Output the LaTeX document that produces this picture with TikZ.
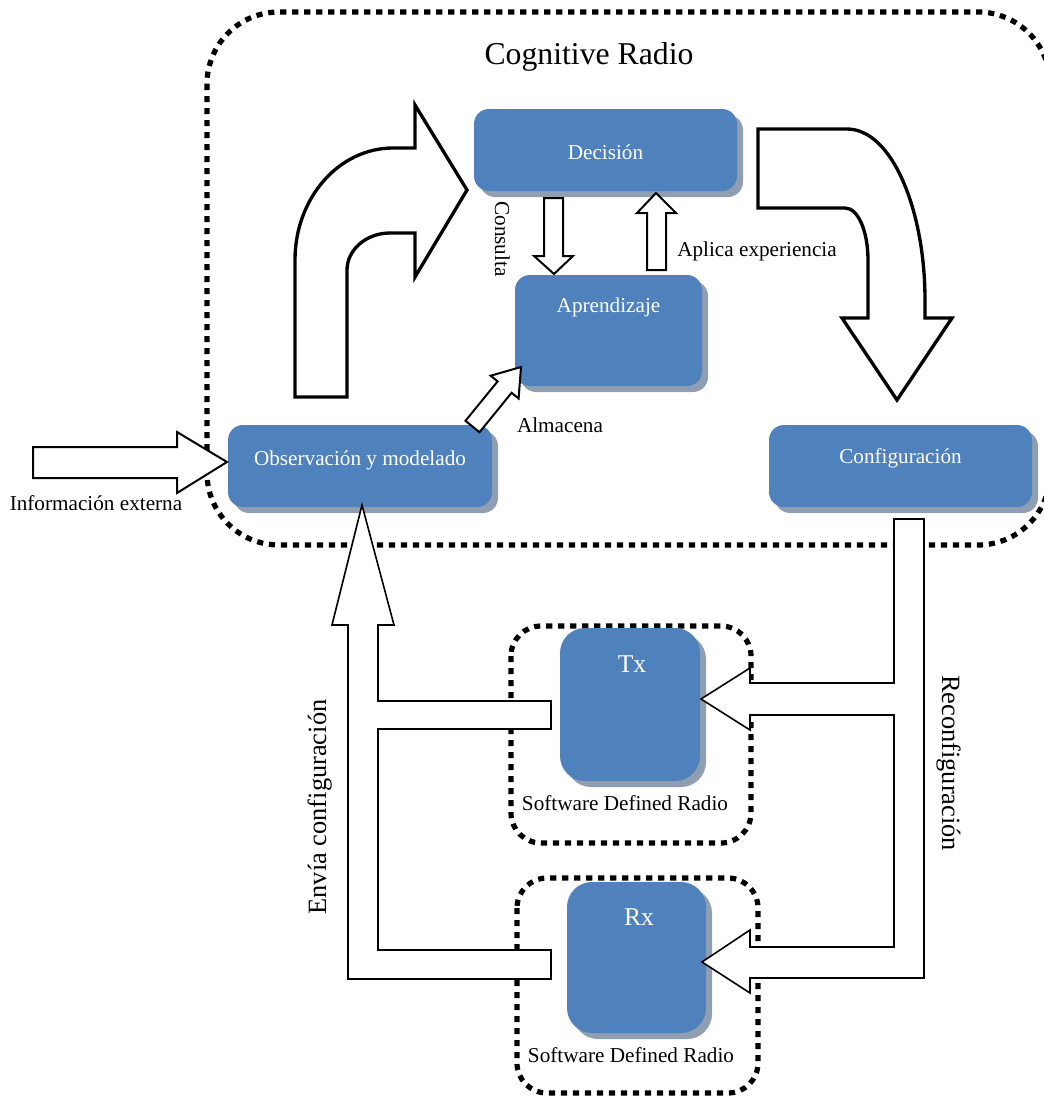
\documentclass[tikz,border=0pt]{standalone}
\usepackage{fontspec}
\setmainfont{Liberation Serif}
\usetikzlibrary{shadows}

\definecolor{boxblue}{RGB}{79,129,189}
\definecolor{shadowgray}{RGB}{143,158,177}

\newcommand\fbase{\fontsize{15.9pt}{19pt}\selectfont}
\newcommand\fbig{\fontsize{19.8pt}{23pt}\selectfont}
\newcommand\ftitle{\fontsize{23.8pt}{28pt}\selectfont}
\newcommand\ftxrx{\fontsize{19.2pt}{23pt}\selectfont}

\begin{document}
\begin{tikzpicture}[x=0.75pt, y=-0.75pt,
  dotframe/.style={draw=black, line width=3.9pt, dash pattern=on 4.6pt off 4.4pt},
  bluebox/.style={fill=boxblue, draw=none, inner sep=0pt, rounded corners=11.25pt,
    drop shadow={shadow xshift=4.5pt, shadow yshift=-4.5pt, fill=shadowgray, opacity=1}},
  tallbox/.style={bluebox, rounded corners=18.75pt},
  wtext/.style={text=white, font=\fbase, inner sep=0pt},
  lbl/.style={text=black, font=\fbase, inner sep=0pt},
  bigarrow/.style={draw=black, fill=white, line width=2.5pt, line join=miter},
  midarrow/.style={draw=black, fill=white, line width=1.5pt, line join=miter},
  tarrow/.style={draw=black, fill=white, line width=1.2pt, line join=miter}
]
\useasboundingbox (0,0) rectangle (1044,1097);
\clip (0,0) rectangle (1044,1097);

% dotted frames: cognitive radio and the two software defined radios
\draw[dotframe, rounded corners=54pt] (207,12) rectangle (1050,545);
\draw[dotframe, rounded corners=22.5pt] (511,626) rectangle (751,843);
\draw[dotframe, rounded corners=22.5pt] (517,878) rectangle (758,1093);

% blue blocks
\node[bluebox, minimum width=197.25pt, minimum height=61.5pt] (dec) at (605.5,150) {};
\node[bluebox, minimum width=140.25pt, minimum height=83.25pt] (apr) at (608.5,330.5) {};
\node[bluebox, minimum width=198pt, minimum height=61.5pt] (obs) at (360,466) {};
\node[bluebox, minimum width=197.25pt, minimum height=61.5pt] (conf) at (900.5,466) {};
\node[tallbox, minimum width=105pt, minimum height=114.75pt] (tx) at (630,704.5) {};
\node[tallbox, minimum width=104.25pt, minimum height=113.25pt] (rx) at (636.5,957.5) {};

% curved arrow: observation -> decision
\path[bigarrow] (295,397) -- (295,260)
  .. controls (295,198) and (339,148) .. (393,148)
  -- (415,148) -- (415,105) -- (467,190) -- (415,277) -- (415,233) -- (390,233)
  .. controls (366,233) and (347,250) .. (347,270)
  -- (347,397) -- cycle;

% curved arrow: decision -> configuration
\path[bigarrow] (758,129) -- (847,129)
  .. controls (892,129) and (925,210) .. (925,300)
  -- (925,318) -- (952,318) -- (897,400) -- (842,318) -- (868,318) -- (868,260)
  .. controls (868,231) and (858,208) .. (845,208)
  -- (758,208) -- cycle;

% decision <-> learning
\path[midarrow] (544,198) -- (563,198) -- (563,256) -- (573,256) -- (554,274)
  -- (534,256) -- (544,256) -- cycle;
\path[midarrow] (647,270) -- (666,270) -- (666,213) -- (676,213) -- (656,193)
  -- (637,213) -- (647,213) -- cycle;

% observation -> learning (store)
\path[midarrow] (465.5,420.8) -- (497.6,381.4) -- (490.7,375.7) -- (521,367)
  -- (518.6,398.5) -- (511.6,392.8) -- (479.5,432.2) -- cycle;

% external information
\path[midarrow] (33,447) -- (177,447) -- (177,432) -- (227,462) -- (177,493)
  -- (177,478) -- (33,478) -- cycle;

% Tx/Rx -> observation
\path[tarrow] (362,505) -- (394,625) -- (378,625) -- (378,701) -- (551,701)
  -- (551,729) -- (378,729) -- (378,950) -- (551,950) -- (551,979)
  -- (348,979) -- (348,625) -- (332,625) -- cycle;

% configuration -> Tx/Rx
\path[tarrow] (894,519) -- (924,519) -- (924,978) -- (750,978) -- (750,993)
  -- (702,962) -- (750,930) -- (750,947) -- (894,947) -- (894,715) -- (750,715)
  -- (750,730) -- (701,699) -- (750,668) -- (750,683) -- (894,683) -- cycle;

% block texts
\node[wtext, anchor=base] at (605.5,159) {Decisión};
\node[wtext, anchor=base] at (608.5,312) {Aprendizaje};
\node[wtext, anchor=base] at (360,465) {Observación y modelado};
\node[wtext, anchor=base] at (900.5,463) {Configuración};
\node[wtext, anchor=base, font=\ftxrx] at (632,672) {Tx};
\node[wtext, anchor=base, font=\ftxrx] at (639,925) {Rx};

% labels
\node[lbl, anchor=base, font=\ftitle] at (589,64) {Cognitive Radio};
\node[lbl, anchor=base] at (96,510) {Información externa};
\node[lbl, anchor=base west] at (677,256) {Aplica experiencia};
\node[lbl, anchor=base] at (560,432) {Almacena};
\node[lbl, anchor=base, rotate=-90] at (495,239) {Consulta};
\node[lbl, anchor=base, rotate=90, font=\fbig] at (326,807) {Envía configuración};
\node[lbl, anchor=base, rotate=-90, font=\fbig] at (942,763) {Reconfiguración};
\node[lbl, anchor=base] at (625,810) {Software Defined Radio};
\node[lbl, anchor=base] at (631,1062) {Software Defined Radio};
\end{tikzpicture}
\end{document}
